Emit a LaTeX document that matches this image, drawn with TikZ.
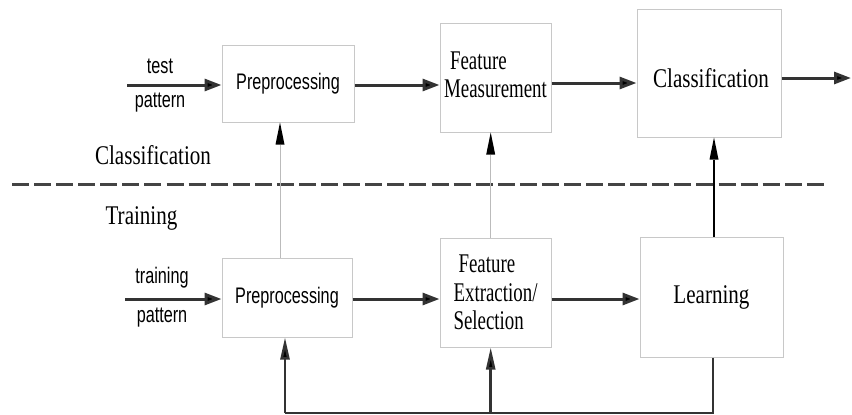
\documentclass[tikz,border=0pt]{standalone}
\usepackage{fontspec}
\setmainfont{Liberation Serif}
\newfontfamily\sansf{Liberation Sans}
\usetikzlibrary{arrows.meta}
\newcommand{\sxs}[1]{\scalebox{0.72}[1]{#1}}
\newcommand{\sxr}[1]{\scalebox{0.78}[1]{#1}}
\newcommand{\sxn}[1]{\scalebox{0.70}[1]{#1}}
\definecolor{boxc}{HTML}{C8C8C8}
\definecolor{linec}{HTML}{333333}
\definecolor{thinc}{HTML}{BBBBBB}
\definecolor{dashc}{HTML}{444444}
\tikzset{
  blk/.style={draw=boxc, line width=1pt, inner sep=0pt, align=left},
  sanstxt/.style={font=\sansf\fontsize{22.5}{26}\selectfont},
  seriftxt/.style={font=\fontsize{27}{28.5}\selectfont},
  harrow/.style={draw=linec, line width=3pt, -{Triangle[length=17pt,width=12pt,fill=black]}},
  varrow/.style={line width=1pt, -{Triangle[length=22pt,width=9pt,fill=black,line width=0pt]}},
  fbline/.style={draw=linec, line width=2.5pt},
  lbl/.style={inner sep=0pt}
}
\begin{document}
\begin{tikzpicture}[x=1pt,y=-1pt]
\useasboundingbox (0,0) rectangle (852,415);
\fill[white] (0,0) rectangle (852,415);
% boxes
\node[blk, sanstxt, minimum width=132pt, minimum height=77pt] (pre1) at (288,83.5) {\sxs{Preprocessing}};
\node[blk, minimum width=111pt, minimum height=109pt] (fm) at (495.5,77.5) {};
\node[lbl, seriftxt, align=left] (fmT) at (495.5,75) {\hspace{6pt}\sxn{Feature}\\\sxn{Measurement}};
\node[blk, minimum width=144pt, minimum height=128pt] (cls) at (709,73) {};
\node[lbl, seriftxt] (clsT) at (711,78) {\sxr{Classification}};
\node[blk, sanstxt, minimum width=130pt, minimum height=79pt] (pre2) at (287,297.5) {\sxs{Preprocessing}};
\node[blk, seriftxt, minimum width=111pt, minimum height=109pt] (fe) at (495.5,292.5) {\hspace{5pt}\sxn{Feature}\\\sxn{Extraction/}\\\sxn{Selection}};
\node[blk, seriftxt, minimum width=143pt, minimum height=120pt] (learn) at (711.5,297) {\sxr{Learning}};
% labels
\node[lbl, sanstxt] (ltest) at (160,66) {\sxs{test}};
\node[lbl, sanstxt] (lpat1) at (160,103) {\sxs{pattern}};
\node[lbl, sanstxt] (ltrain) at (162,278) {\sxs{training}};
\node[lbl, sanstxt] (lpat2) at (162,318) {\sxs{pattern}};
\node[lbl, seriftxt] (lcls) at (153,155) {\sxr{Classification}};
\node[lbl, seriftxt] (ltrn) at (141.5,218) {\sxr{Training}};
% free ends
\coordinate (tin) at (127,85);
\coordinate (trin) at (125,299);
\coordinate (out) at (851,78);
\coordinate (dl) at (12,184);
\coordinate (dr) at (824,184);
\coordinate (fbl) at (285,413);
\coordinate (fbm) at (490.7,413);
\coordinate (fbr) at (713,413);
% dashed separator
\draw[dashc, line width=3pt, dash pattern=on 17pt off 5.08pt] (dl) -- (dr);
% horizontal arrows top
\draw[harrow] (tin) -- (tin -| pre1.west);
\draw[harrow] ([yshift=-1.5pt]pre1.east) -- ([yshift=-1.5pt]pre1.east -| fm.west);
\draw[harrow] ([yshift=-5.5pt]fm.east) -- ([yshift=-5.5pt]fm.east -| cls.west);
\draw[harrow] ([yshift=-5pt]cls.east) -- (out);
% horizontal arrows bottom
\draw[harrow] (trin) -- (trin -| pre2.west);
\draw[harrow] ([yshift=-1.5pt]pre2.east) -- ([yshift=-1.5pt]pre2.east -| fe.west);
\draw[harrow] ([yshift=-6.5pt]fe.east) -- ([yshift=-6.5pt]fe.east -| learn.west);
% vertical links between rows
\draw[varrow, draw=thinc] ([xshift=-7pt]pre2.north) -- ([xshift=-7pt]pre2.north |- pre1.south);
\draw[varrow, draw=thinc] ([xshift=-4.8pt]fe.north) -- ([xshift=-4.8pt]fe.north |- fm.south);
\draw[varrow, draw=black, line width=1.8pt] ([xshift=2.5pt]learn.north) -- ([xshift=2.5pt]learn.north |- cls.south);
% feedback
\draw[fbline] ([xshift=1.5pt]learn.south) -- (fbr) -- (fbl);
\draw[fbline, -{Triangle[length=22pt,width=9pt,fill=black]}] (fbl) -- (fbl |- pre2.south);
\draw[fbline, -{Triangle[length=22pt,width=9pt,fill=black]}] (fbm) -- (fbm |- fe.south);
\end{tikzpicture}
\end{document}
